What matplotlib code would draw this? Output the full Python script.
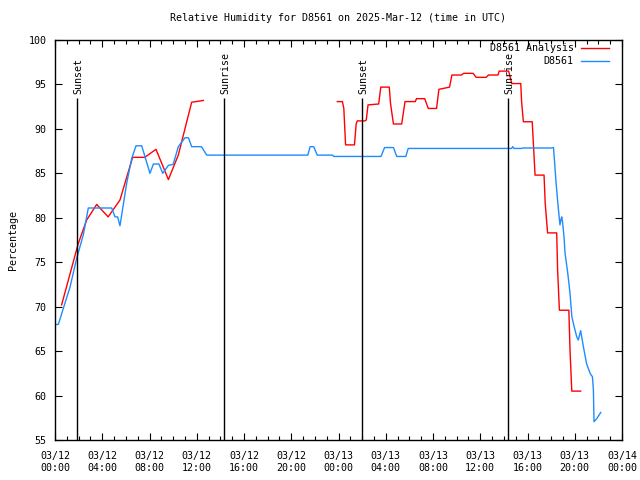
import numpy as np
import matplotlib
matplotlib.use("Agg")
import matplotlib.pyplot as plt

# hours since 03/12 00:00 UTC
obs_hours = [0.0, 0.28, 1.27, 1.83, 2.4, 2.82, 4.8, 5.08, 5.3, 5.5, 6.07, 6.5, 6.86, 7.34,
             8.04, 8.33, 8.8, 9.12, 9.6, 10.0, 10.44, 11.0, 11.3, 11.57, 12.4, 12.84,
             21.4, 21.6, 21.9, 22.2, 23.5, 23.6, 27.6, 27.9, 28.65, 28.93, 29.7, 29.9,
             38.65, 38.75, 38.85, 39.5, 39.6, 42.05, 42.2, 42.28, 42.4, 42.57, 42.68,
             42.75, 42.85, 42.9, 42.98, 43.1, 43.18, 43.41, 43.6, 43.75, 43.95, 44.17,
             44.3, 44.5, 44.73, 45.0, 45.3, 45.5, 45.58, 45.63, 45.86, 46.2]
obs_rh = [68.0, 68.0, 72.2, 75.4, 78.1, 81.1, 81.1, 80.1, 80.1, 79.1, 83.9, 86.7, 88.1, 88.1,
          85.0, 86.05, 86.05, 85.0, 85.9, 86.0, 88.0, 89.0, 89.0, 88.0, 88.0, 87.05,
          87.05, 88.0, 88.0, 87.05, 87.05, 86.9, 86.9, 87.9, 87.9, 86.9, 86.9, 87.8,
          87.8, 88.0, 87.8, 87.8, 87.85, 87.85, 87.9, 86.5, 84.25, 81.6, 80.1,
          79.2, 79.9, 80.1, 79.4, 77.7, 76.0, 73.75, 71.5, 68.9, 67.75, 66.6,
          66.25, 67.3, 65.5, 63.6, 62.5, 62.1, 60.6, 57.06, 57.4, 58.1]

ana_hours = [0.56, 1.97, 2.68, 3.53, 4.5, 5.5, 6.57, 7.6, 8.55, 9.6, 10.44, 11.57, 12.56,
             18.0,
             23.9, 24.33, 24.45, 24.6, 25.35, 25.5, 25.6, 26.25, 26.35, 26.5, 27.4, 27.58,
             28.3, 28.4, 28.65, 29.35, 29.63, 30.5, 30.6, 31.3, 31.6, 32.3, 32.5, 33.4,
             33.6, 34.4, 34.6, 35.4, 35.65, 36.5, 36.7, 37.5, 37.6, 38.4, 38.67, 39.43,
             39.5, 39.65, 40.4, 40.64, 41.4, 41.5, 41.7, 42.47, 42.55, 42.7, 43.5, 43.6,
             43.75, 44.5]
ana_rh = [70.2, 77.1, 79.75, 81.5, 80.1, 82.0, 86.8, 86.8, 87.7, 84.3, 87.06, 93.0, 93.2,
          np.nan,
          93.07, 93.07, 92.3, 88.2, 88.2, 90.6, 90.9, 90.9, 91.0, 92.7, 92.8, 94.7,
          94.7, 92.9, 90.55, 90.55, 93.07, 93.07, 93.4, 93.4, 92.3, 92.3, 94.45, 94.7,
          96.06, 96.06, 96.25, 96.25, 95.8, 95.8, 96.06, 96.06, 96.5, 96.5, 95.1, 95.1,
          93.06, 90.8, 90.8, 84.8, 84.8, 81.6, 78.3, 78.3, 74.1, 69.6, 69.6, 65.1,
          60.5, 60.5]

sun_hours = [1.86, 14.3, 26.0, 38.36]
sun_labels = ["Sunset", "Sunrise", "Sunset", "Sunrise"]

tick_hours = list(range(0, 49, 4))
tick_labels = ["03/12\n00:00", "03/12\n04:00", "03/12\n08:00", "03/12\n12:00",
               "03/12\n16:00", "03/12\n20:00", "03/13\n00:00", "03/13\n04:00",
               "03/13\n08:00", "03/13\n12:00", "03/13\n16:00", "03/13\n20:00",
               "03/14\n00:00"]

plt.rcParams['font.family'] = ['DejaVu Sans Mono']
plt.rcParams['font.size'] = 7.2

fig = plt.figure(figsize=(6.4, 4.8), dpi=100)
ax = fig.add_axes([55 / 640, 40 / 480, 567 / 640, 400 / 480])

ax.plot(ana_hours, ana_rh, color="#ff0000", lw=1, label="D8561 Analysis")
ax.plot(obs_hours, obs_rh, color="#1e8cff", lw=1, label="D8561")

for h, lab in zip(sun_hours, sun_labels):
    ax.vlines(h, 55, 93.5, color="black", lw=1)
    ax.text(h + 0.12, 93.9, lab, rotation=90, ha="center", va="bottom", fontsize=7.2)

ax.set_xlim(0, 48)
ax.set_ylim(55, 100)
ax.set_xticks(tick_hours)
ax.set_xticklabels(tick_labels)
ax.set_xticks(range(0, 49), minor=True)
ax.set_yticks(range(55, 101, 5))
ax.tick_params(which="both", direction="in", top=True, right=True, width=0.8)
ax.tick_params(which="major", length=5, pad=6)
ax.tick_params(axis="x", which="major", pad=8)
ax.tick_params(which="minor", length=3)
for s in ax.spines.values():
    s.set_linewidth(1)

ax.set_title("Relative Humidity for D8561 on 2025-Mar-12 (time in UTC)", fontsize=7.2, pad=14)
ax.set_ylabel("Percentage", labelpad=8)

ax.legend(loc="upper right", bbox_to_anchor=(0.98, 0.997), frameon=False,
          markerfirst=False, handlelength=2.8, fontsize=7.2, borderaxespad=0,
          borderpad=0.2, labelspacing=0.3, handletextpad=0.7)

fig.savefig("out.png", dpi=100)
